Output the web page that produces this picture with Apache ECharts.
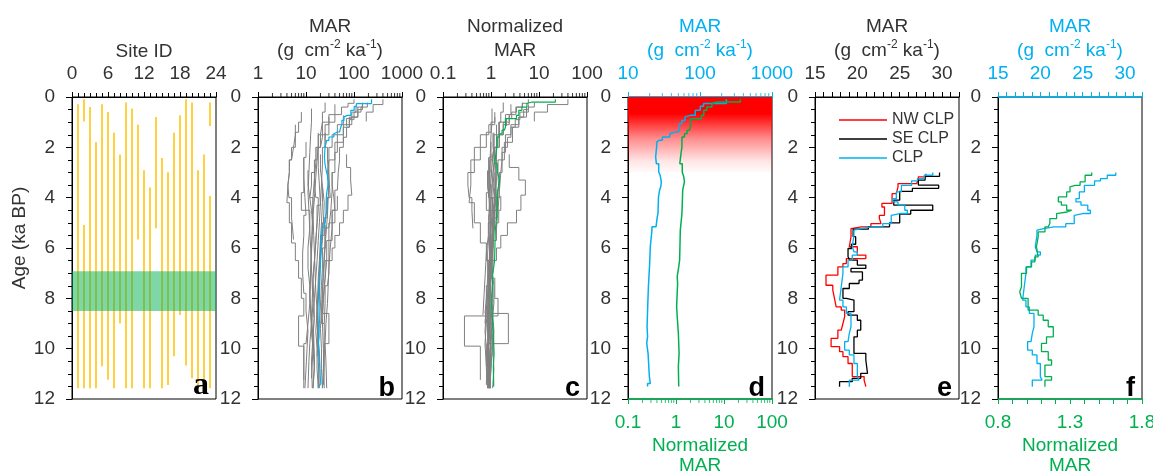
<!DOCTYPE html>
<html>
<head>
<meta charset="utf-8">
<script src="https://cdn.jsdelivr.net/npm/echarts@6.0.0/dist/echarts.min.js"></script>
<style>
html,body{margin:0;padding:0;background:#ffffff;}
#chart{width:1153px;height:474px;}
</style>
</head>
<body>
<div id="chart"></div>
<script>
// ---------------- DATA ----------------
// Panel a: spans of each site record (ka BP)
const siteId     = [1,2,2,3,4,5,6,7,8,9,10,11,12,13,14,15,16,17,18,19,20,21,22,23,23];
const siteTop    = [0.29,0.09,5.09,0.4,1.79,0.29,0.6,1.42,2.28,0.22,0.46,1.1,2.91,3.6,0.79,2.42,2.99,1.42,0.73,0.09,0.22,2.91,2.28,0.22,3.93];
const siteBottom = [11.57,0.97,11.57,11.57,11.57,10.7,11.24,11.57,9.0,11.57,11.57,5.66,11.57,11.57,5.22,11.57,11.44,10.3,8.66,10.67,11.18,11.57,11.57,1.15,11.57];
const bandAges   = [6.92, 8.5];

// Panels b, c: step records of each site (age edges, MAR, normalized MAR)
const siteEdges = [
 [0.29,0.7,1.0,1.6,2.0,2.8,3.5,4.3,5.0,5.8,6.5,7.2,8.0,8.8,9.5,10.5,11.57],
 [0.09,0.3,0.6,0.97],
 [5.09,6.0,7.0,8.0,9.0,10.0,11.57],
 [0.4,0.8,1.2,1.8,2.5,3.2,4.0,4.8,5.5,6.2,7.0,7.8,8.5,9.3,10.0,10.8,11.57],
 [1.79,2.4,3.0,3.8,4.5,5.2,6.0,6.8,7.5,8.2,9.0,9.8,10.5,11.57],
 [0.29,0.5,0.8,1.1,1.5,2.2,3.0,3.7,4.5,5.2,6.0,6.8,7.5,8.3,9.0,9.8,10.7],
 [0.6,1.0,1.4,2.0,2.5,3.0,3.5,4.2,5.0,5.8,6.5,7.2,8.0,8.7,9.9,11.24],
 [1.42,2.0,2.5,3.2,4.0,4.7,5.5,6.2,7.0,7.7,8.5,9.2,10.0,10.8,11.57],
 [2.28,2.8,3.3,3.9,4.5,5.0,5.5,6.0,6.5,7.0,7.5,8.2,9.0],
 [0.22,0.4,0.6,0.9,1.2,1.6,2.0,2.5,3.0,3.7,4.5,5.2,6.0,6.8,7.5,8.2,9.0,9.8,10.5,11.57],
 [0.46,1.0,1.5,2.2,3.0,3.8,4.5,5.3,6.0,6.8,7.5,8.2,9.0,9.8,10.5,11.57],
 [1.1,1.5,2.0,2.5,3.0,3.5,4.0,4.8,5.66],
 [2.91,3.5,4.0,4.5,5.0,5.7,6.5,7.2,8.0,8.8,9.5,10.5,11.57],
 [3.6,4.2,5.0,5.7,6.5,7.2,8.0,8.8,9.5,10.5,11.57],
 [0.79,1.1,1.5,2.0,2.5,3.0,3.5,4.0,4.5,5.22],
 [2.42,3.2,4.0,4.7,5.5,6.2,7.0,7.8,8.5,9.3,10.0,10.8,11.57],
 [2.99,3.5,4.0,4.5,5.0,5.7,6.5,7.2,8.0,8.6,9.8,10.6,11.44],
 [1.42,2.0,2.5,3.2,4.0,4.7,5.5,6.2,7.0,7.7,8.5,9.3,10.3],
 [0.73,1.1,1.5,2.0,2.5,3.0,3.5,4.0,4.5,5.0,5.5,6.2,7.0,7.8,8.66],
 [0.09,0.25,0.4,0.7,1.0,1.5,2.0,2.7,3.5,4.2,5.0,5.7,6.5,7.2,8.0,8.8,9.5,10.67],
 [0.22,0.6,1.0,1.5,2.0,2.6,3.24,4.0,5.0,6.0,7.0,8.0,9.0,10.0,11.18],
 [2.91,3.5,4.0,4.7,5.5,6.2,7.0,7.8,8.5,9.3,10.0,10.8,11.57],
 [2.28,2.9,3.5,4.2,5.0,5.7,6.5,7.2,8.0,8.8,9.5,10.5,11.57],
 [0.22,0.4,0.6,0.85,1.15],
 [3.93,4.5,5.0,5.7,6.5,7.2,8.0,9.0,10.0,11.57]
];
const siteMar = [
 [40,30,22,20,18,19,20,17,16,15,14,13.5,13,14,15,14],
 [400,250,180],
 [25,23,22,21,24,22],
 [120,80,60,40,30,32,28,24,20,19,18,17,16,17,17,18],
 [10,9,9,8,12,11,11,12,12,11,10,9,9],
 [150,120,90,60,45,40,35,33,30,25,22,21,20,19,18,19],
 [8,7,6,5,4.5,4.2,4,4.5,5,6,7,8,9,7,9],
 [25,28,30,29,28,26,24,23,22,21,20,21,21,22],
 [70,85,90,75,60,50,40,35,30,28,25,24],
 [190,140,100,80,70,60,50,47,45,40,35,32,30,29,28,26,25,26,27],
 [13,12.5,12,11.5,11,11.5,12,12.5,13,13.5,14,13,12,11.5,11],
 [6,5.5,5,4.5,4.2,4.4,5,5.5],
 [15,16,18,17,16,15,14,14.5,15,14,13,13.5],
 [22,21,20,19,18,17.5,17,18,19,18],
 [30,25,20,17,15,13,12,13,14],
 [9,9.5,10,9,8.5,8.5,9,10,11,10.5,10,9.5],
 [35,38,40,35,30,27,25,23,22,30,24,23],
 [18,17,16,15,14,14.5,15,15.5,16,17,18,17],
 [60,45,35,30,28,29,30,27,25,22,20,19,18,17],
 [100,75,55,40,30,25,22,21,20,19,18,17,16,15,14,14.5,15],
 [25,22,20,18,16,15,14,13.5,13,12.5,12,13,14,13],
 [11,12,14,13.5,13,12.5,12,12.5,13,14,15,14],
 [20,22,24,23,22,20,19,18,17,17.5,18,19],
 [150,110,90,70],
 [45,40,35,30,25,23,22,23,24]
];
const siteNorm = [
 [2.6,2.0,1.5,1.35,1.2,1.25,1.3,1.1,1.05,1.0,0.95,0.9,0.85,0.95,1.0,0.95],
 [40,15,8],
 [1.1,1.0,0.95,0.9,1.05,0.95],
 [5.5,3.8,2.8,1.9,1.4,1.5,1.3,1.1,0.95,0.9,0.85,0.8,0.75,0.8,0.8,0.85],
 [1.0,0.9,0.9,0.8,1.15,1.05,1.05,1.15,1.15,1.05,0.95,0.85,0.85],
 [6,4.8,3.8,2.6,2.0,1.7,1.5,1.4,1.3,1.1,0.95,0.9,0.85,0.8,0.75,0.8],
 [1.2,1.0,0.8,0.6,0.45,0.38,0.35,0.45,0.6,0.8,1.0,1.2,1.4,0.28,0.6],
 [1.1,1.2,1.3,1.25,1.2,1.15,1.05,1.0,0.95,0.9,0.88,0.9,0.92,0.95],
 [2.4,3.8,5.2,4.2,3.4,2.2,1.6,1.3,1.1,0.95,0.8,0.75],
 [8,6,4,3.2,2.6,2.2,1.7,1.6,1.5,1.35,1.15,1.05,1.0,0.97,0.95,0.88,0.85,0.88,0.9],
 [1.05,1.0,0.97,0.93,0.9,0.93,0.97,1.0,1.05,1.08,1.1,1.05,0.97,0.93,0.9],
 [1.3,1.15,1.05,0.95,0.85,0.9,1.0,1.1],
 [0.95,1.05,1.15,1.1,1.05,1.0,0.9,0.92,0.98,0.9,0.85,0.88],
 [1.2,1.15,1.1,1.0,0.95,0.92,0.9,0.95,1.0,0.95],
 [1.2,0.9,0.6,0.45,0.38,0.33,0.35,0.4,0.42],
 [0.9,0.95,1.0,0.9,0.85,0.85,0.9,1.0,1.1,1.05,1.0,0.95],
 [1.2,1.3,1.4,1.2,1.0,0.92,0.85,0.8,0.75,2.3,0.82,0.8],
 [1.15,1.08,1.0,0.95,0.9,0.92,0.95,0.98,1.0,1.08,1.15,1.1],
 [2.4,1.8,1.4,1.2,1.1,1.15,1.2,1.08,1.0,0.88,0.8,0.76,0.72,0.68],
 [6,4.5,3.3,2.4,1.8,1.5,1.3,1.25,1.2,1.15,1.1,1.02,0.95,0.9,0.85,0.87,0.9],
 [1.8,1.6,1.45,1.3,1.15,1.08,1.0,0.98,0.95,0.9,0.85,0.92,1.0,0.95],
 [0.85,0.92,1.1,1.05,1.0,0.97,0.95,0.97,1.0,1.08,1.15,1.08],
 [1.0,1.1,1.2,1.15,1.1,1.0,0.95,0.9,0.85,0.88,0.9,0.95],
 [4.5,3.4,2.7,2.1],
 [1.6,1.45,1.3,1.1,0.95,0.9,0.85,0.88,0.9]
];

// Mean curves (panels b, c, d)
const meanMarEdges = [0.09,0.26,0.37,0.53,0.73,0.79,0.93,1.06,1.26,1.39,1.46,1.59,1.72,1.79,1.98,2.38,2.65,2.98,3.11,3.37,3.57,3.7,3.97,4.63,4.76,5.16,5.29,5.95,6.61,7.54,8.47,9.13,9.52,9.79,10.19,11.11,11.38,11.5];
const meanMar      = [232,112,101,86,73,62,56,52,50,45,38,30,27,25,24.2,24.8,26.7,28,29,28.5,27.5,26.5,26.1,25.5,24.5,21.5,20.4,20,19.2,18.7,18.4,18.7,18.2,19,19.8,20.4,18.7];
const meanNormEdges = [0.09,0.2,0.26,0.4,0.53,0.73,0.86,1.19,1.32,1.46,1.59,1.98,2.25,2.65,2.98,3.17,3.37,3.5,3.7,4.63,5.29,6.48,6.75,7.14,7.41,8.33,8.73,9.39,10.19,10.71,11.5];
const meanNorm      = [21.9,7.2,5.6,4.4,3.8,3.4,2.0,1.9,1.7,1.5,1.33,1.27,1.2,1.35,1.45,1.5,1.45,1.38,1.33,1.23,1.19,1.14,1.06,1.08,1.03,1.06,1.12,1.16,1.12,1.14];

// Panel e: regional MAR stacks (3-11.5 ka)
const nwEdges = [3.05,3.17,3.28,3.44,3.57,3.84,4.23,4.37,4.7,4.83,5.03,5.16,5.23,5.56,5.95,6.28,6.42,6.62,6.75,7.08,7.48,7.67,8.0,8.34,8.47,8.73,9.0,9.26,9.59,9.92,10.12,10.32,10.59,11.11,11.25,11.51];
const nwMar   = [28.1,27.2,27.0,24.8,24.6,24.1,22.9,23.2,22.6,22.8,21.6,20.5,19.25,19.05,20.0,21.0,18.7,18.3,17.7,16.3,17.1,17.3,17.5,18.1,18.5,18.3,18.1,17.7,16.9,17.9,18.3,18.9,19.4,20.8,21.0];
const seEdges = [3.0,3.15,3.3,3.5,3.63,3.75,4.1,4.3,4.5,4.65,5.0,5.16,5.25,5.55,5.85,6.02,6.35,6.48,6.68,6.81,6.95,7.28,7.41,7.61,8.0,8.07,8.53,8.67,8.87,9.26,9.53,10.19,10.45,10.98,11.18,11.31,11.51];
const seMar   = [29.7,28.0,27.2,29.6,26.5,25.0,24.3,28.9,26.3,25.0,23.8,21.3,19.5,19.8,19.3,18.9,19.1,20.0,21.0,19.25,20.6,20.2,19.05,18.3,18.7,19.6,18.9,20.0,20.4,20.0,19.6,21.0,21.2,20.4,19.4,17.9];
const clpEdges = [3.0,3.11,3.24,3.33,3.51,3.77,4.04,4.17,4.3,4.5,4.63,4.7,5.03,5.16,5.23,5.29,5.49,5.95,6.15,6.28,6.48,6.75,7.01,7.54,8.07,8.34,8.6,9.13,9.39,9.72,10.06,10.25,10.59,11.11,11.25,11.51];
const clpMar   = [28.9,27.9,27.1,26.4,25.2,24.6,24.2,24.8,25.6,25.9,25.0,24.0,23.0,21.6,20.4,19.6,19.4,19.6,20.0,19.4,18.9,18.3,18.1,17.9,18.3,18.7,19.25,19.05,18.9,18.5,19.05,19.6,20.0,20.2,19.05];
// Panel f: normalized CLP stack
const clpNormEdges = [3.0,3.11,3.37,3.51,3.57,3.77,3.97,4.17,4.3,4.5,4.57,4.63,4.83,5.03,5.16,5.36,5.56,5.95,6.35,6.55,6.75,7.01,7.54,7.74,8.0,8.47,8.67,8.87,9.13,9.53,9.79,10.12,10.45,10.65,11.11,11.25,11.51];
const clpNorm      = [1.451,1.405,1.37,1.335,1.30,1.277,1.219,1.24,1.277,1.312,1.28,1.207,1.16,1.149,1.126,1.079,1.067,1.079,1.056,1.033,0.998,0.963,0.951,0.963,1.009,1.079,1.114,1.149,1.184,1.137,1.102,1.149,1.172,1.126,1.172,1.126];

// Legend names of panel e
const regionNames = ['NW CLP','SE CLP','CLP'];

// ---------------- STYLE / LAYOUT ----------------
const FONT = 'Arial, "Liberation Sans", sans-serif';
const TXT = '#333333';
const GRAY = '#808080', BLUE = '#00b0f0', GREEN = '#00b050', RED = '#ff0000', ORANGE = '#ffc000';
const lefts = [72, 258, 443, 628, 815, 998];
const PW = 144, PT = 97, PH = 302;

function steps(edges, vals) {
  const pts = [];
  for (let i = 0; i < vals.length; i++) {
    pts.push([vals[i], edges[i]]);
    pts.push([vals[i], edges[i + 1]]);
  }
  return pts;
}
function lineS(xi, yi, data, color, width, extra) {
  return Object.assign({
    type: 'line', xAxisIndex: xi, yAxisIndex: yi, data: data,
    symbol: 'none', showSymbol: false, silent: true, animation: false,
    lineStyle: { color: color, width: width }, itemStyle: { color: color }, z: 2
  }, extra || {});
}
function logMinor(lo, hi) {
  const out = [];
  for (let d = lo; d < hi * 0.999; d *= 10)
    for (let k = 2; k <= 9; k++) out.push(+(d * k).toPrecision(3));
  return out;
}
function tickS(xi, yi, vals, yv, dir, color) {
  return {
    type: 'scatter', xAxisIndex: xi, yAxisIndex: yi, silent: true, animation: false, clip: false,
    data: vals.map(v => [v, yv]), symbol: 'rect', symbolSize: [1, 4], symbolOffset: [0, dir * 2],
    itemStyle: { color: color }, z: 4
  };
}
const unitRich = c => ({
  n: { fontSize: 19, lineHeight: 24, color: c, fontFamily: FONT },
  s: { fontSize: 12, lineHeight: 14, verticalAlign: 'top', color: c, fontFamily: FONT }
});
const UNIT_NAME = '{n|MAR}\n{n|(g  cm}{s|-2}{n| ka}{s|-1}{n|)}';
const NORM_NAME = '{n|Normalized}\n{n|MAR}';

function xAx(gi, pos, color, extra) {
  return Object.assign({
    gridIndex: gi, position: pos,
    axisLine: { show: true, onZero: false, lineStyle: { color: color, width: 1 } },
    axisTick: { show: true, length: 5, lineStyle: { color: color } },
    axisLabel: { fontSize: 19, color: color === '#000' ? TXT : color, margin: 14, fontFamily: FONT },
    splitLine: { show: false },
    nameMoveOverlap: false,
    nameLocation: 'middle', nameGap: pos === 'top' ? 34 : 37
  }, extra);
}
const logFmt = v => String(+(+v).toPrecision(6));

const xAxes = [
  xAx(0, 'top', '#000', { type: 'value', min: 0, max: 24, interval: 6,
      minorTick: { show: true, splitNumber: 6, length: 4, lineStyle: { color: '#000' } },
      name: 'Site ID', nameGap: 33, nameTextStyle: { fontSize: 19, lineHeight: 24, color: TXT, fontFamily: FONT } }),
  xAx(1, 'top', '#000', { type: 'log', logBase: 10, min: 1, max: 1000, axisLabel: { fontSize: 19, color: TXT, margin: 14, formatter: logFmt },
      name: UNIT_NAME, nameTextStyle: { rich: unitRich(TXT) } }),
  xAx(2, 'top', '#000', { type: 'log', logBase: 10, min: 0.1, max: 100, axisLabel: { fontSize: 19, color: TXT, margin: 14, formatter: logFmt },
      name: NORM_NAME, nameTextStyle: { rich: unitRich(TXT) } }),
  xAx(3, 'top', BLUE, { type: 'log', logBase: 10, min: 10, max: 1000, axisLine: { show: true, onZero: false, lineStyle: { color: BLUE, width: 1.5 } },
      axisLabel: { fontSize: 19, color: BLUE, margin: 14, formatter: logFmt },
      name: UNIT_NAME, nameTextStyle: { rich: unitRich(BLUE) } }),
  xAx(3, 'bottom', GREEN, { type: 'log', logBase: 10, min: 0.1, max: 100, axisLine: { show: true, onZero: false, lineStyle: { color: GREEN, width: 1.5 } },
      axisLabel: { fontSize: 19, color: GREEN, margin: 14, formatter: logFmt },
      name: NORM_NAME, nameTextStyle: { rich: { n: { fontSize: 19, lineHeight: 20, color: GREEN, fontFamily: FONT } } } }),
  xAx(4, 'top', '#000', { type: 'value', min: 15, max: 32, interval: 1,
      axisLabel: { fontSize: 19, color: TXT, margin: 14, formatter: v => (v % 5 === 0 ? String(v) : '') },
      name: UNIT_NAME, nameTextStyle: { rich: unitRich(TXT) } }),
  xAx(5, 'top', BLUE, { type: 'value', min: 15, max: 32, interval: 1,
      axisLine: { show: true, onZero: false, lineStyle: { color: BLUE, width: 1.5 } },
      axisLabel: { fontSize: 19, color: BLUE, margin: 14, formatter: v => (v % 5 === 0 ? String(v) : '') },
      name: UNIT_NAME, nameTextStyle: { rich: unitRich(BLUE) } }),
  xAx(5, 'bottom', GREEN, { type: 'value', min: 0.8, max: 1.8, interval: 0.1,
      axisLine: { show: true, onZero: false, lineStyle: { color: GREEN, width: 1.5 } },
      axisLabel: { fontSize: 19, color: GREEN, margin: 14, formatter: v => { const r = Math.round(v * 10); return (r === 8 || r === 13 || r === 18) ? (r / 10).toFixed(1) : ''; } },
      name: NORM_NAME, nameTextStyle: { rich: { n: { fontSize: 19, lineHeight: 20, color: GREEN, fontFamily: FONT } } } })
];

const yAxes = lefts.map((l, i) => ({
  gridIndex: i, type: 'value', inverse: true, min: 0, max: 12, interval: 2,
  axisLine: { show: true, onZero: false, lineStyle: { color: '#000' } },
  axisTick: { show: true, length: 6, lineStyle: { color: '#000' } },
  minorTick: { show: true, splitNumber: 4, length: 4, lineStyle: { color: '#000' } },
  axisLabel: { fontSize: 19, color: TXT, margin: 17, fontFamily: FONT },
  splitLine: { show: false }
}));

const series = [];
// panel a
siteId.forEach((id, i) => {
  series.push(lineS(0, 0, [[id, siteTop[i]], [id, siteBottom[i]]], ORANGE, 1.5));
});
series.push(lineS(0, 0, [], ORANGE, 0, {
  z: 6,
  markArea: { silent: true, z: 6, itemStyle: { color: 'rgba(0,176,80,0.5)' },
    data: [[{ yAxis: bandAges[0] }, { yAxis: bandAges[1] }]] }
}));
// panel b
siteEdges.forEach((e, i) => series.push(lineS(1, 1, steps(e, siteMar[i]), GRAY, 1)));
series.push(lineS(1, 1, steps(meanMarEdges, meanMar), BLUE, 1.2, { z: 3 }));
series.push(tickS(1, 1, logMinor(1, 1000), 0, -1, '#000'));
// panel c
siteEdges.forEach((e, i) => series.push(lineS(2, 2, steps(e, siteNorm[i]), GRAY, 1)));
series.push(lineS(2, 2, steps(meanNormEdges, meanNorm), GREEN, 1.2, { z: 3 }));
series.push(tickS(2, 2, logMinor(0.1, 100), 0, -1, '#000'));
// panel d
series.push(lineS(3, 3, steps(meanMarEdges, meanMar), BLUE, 1.5, {
  markArea: { silent: true, itemStyle: { color: {
      type: 'linear', x: 0, y: 0, x2: 0, y2: 1,
      colorStops: [
        { offset: 0, color: 'rgba(255,0,0,1)' },
        { offset: 0.22, color: 'rgba(255,0,0,1)' },
        { offset: 0.55, color: 'rgba(255,0,0,0.45)' },
        { offset: 0.85, color: 'rgba(255,0,0,0.1)' },
        { offset: 1, color: 'rgba(255,0,0,0.02)' }
      ] } },
    data: [[{ yAxis: 0 }, { yAxis: 3 }]] }
}));
series.push(lineS(4, 3, steps(meanNormEdges, meanNorm), GREEN, 1.5));
series.push(tickS(3, 3, logMinor(10, 1000), 0, -1, BLUE));
series.push(tickS(4, 3, logMinor(0.1, 100), 12, 1, GREEN));
// panel e
series.push(lineS(5, 4, steps(nwEdges, nwMar), RED, 1.3, { name: regionNames[0] }));
series.push(lineS(5, 4, steps(seEdges, seMar), '#000000', 1.3, { name: regionNames[1] }));
series.push(lineS(5, 4, steps(clpEdges, clpMar), BLUE, 1.3, { name: regionNames[2], z: 3 }));
// panel f
series.push(lineS(6, 5, steps(clpEdges, clpMar), BLUE, 1.3));
series.push(lineS(7, 5, steps(clpNormEdges, clpNorm), GREEN, 1.3, { z: 3 }));

const letters = ['a', 'b', 'c', 'd', 'e', 'f'];
const graphic = letters.map((t, i) => ({
  type: 'text', x: lefts[i] + PW - 7, y: 402, z: 50,
  style: { text: t, align: 'right', verticalAlign: 'bottom', fill: '#000',
    font: i === 0 ? 'bold 32px "Liberation Serif", "Times New Roman", serif' : 'bold 27px Arial, "Liberation Sans", sans-serif' }
}));
graphic.push({
  type: 'text', x: 20, y: 238, rotation: Math.PI / 2, z: 50,
  style: { text: 'Age (ka BP)', align: 'center', verticalAlign: 'middle', fill: TXT, font: '19px Arial, "Liberation Sans", sans-serif' }
});

const chart = echarts.init(document.getElementById('chart'), null, { renderer: 'canvas' });
chart.setOption({
  animation: false,
  backgroundColor: '#ffffff',
  textStyle: { fontFamily: FONT },
  grid: lefts.map(l => ({ left: l, top: PT, width: PW, height: PH, show: true, borderColor: '#000', borderWidth: 1,
    backgroundColor: 'transparent', containLabel: false, outerBoundsMode: 'none' })),
  xAxis: xAxes,
  yAxis: yAxes,
  legend: {
    data: regionNames.map(n => ({ name: n, icon: 'rect' })), orient: 'vertical', left: 834, top: 107,
    itemWidth: 48, itemHeight: 1.5, itemGap: 3,
    selectedMode: false, textStyle: { fontSize: 16, color: TXT, fontFamily: FONT }
  },
  graphic: graphic,
  series: series
});
</script>
</body>
</html>
